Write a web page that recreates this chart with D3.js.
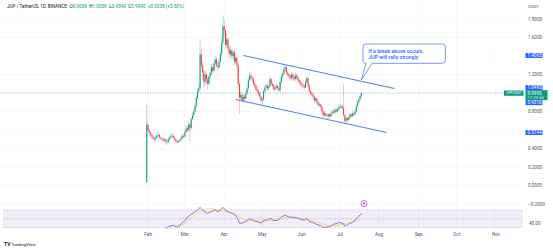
<!DOCTYPE html>
<html>
<head>
<meta charset="utf-8">
<script src="https://cdn.jsdelivr.net/npm/d3@7"></script>
<style>
  html, body { margin: 0; padding: 0; background: #fff; }
  svg { display: block; font-family: Roboto, "Liberation Sans", sans-serif; }
</style>
</head>
<body>
<div id="chart"></div>
<script>
// JUP / USDT daily candles, one per day from 31 Jan 2024
const startDate = new Date(2024, 0, 31);
const firstOpen = 0.04;
const closes = [
  0.66, 0.60, 0.57, 0.55, 0.53, 0.51, 0.50, 0.52, 0.54, 0.55,
  0.52, 0.51, 0.50, 0.49, 0.50, 0.48, 0.47, 0.50, 0.52, 0.53,
  0.54, 0.52, 0.50, 0.48, 0.47, 0.48, 0.49, 0.51, 0.54, 0.53,
  0.58, 0.62, 0.60, 0.66, 0.62, 0.72, 0.76, 0.80, 0.86, 0.95,
  1.02, 1.05, 1.42, 1.30, 1.22, 1.12, 1.20, 1.15, 1.10, 1.18,
  1.22, 1.28, 1.24, 1.32, 1.36, 1.30, 1.28, 1.34, 1.42, 1.55,
  1.72, 1.68, 1.52, 1.58, 1.48, 1.42, 1.46, 1.40, 1.44, 1.34,
  1.38, 1.30, 1.10, 0.95, 0.98, 0.92, 0.96, 0.94, 1.00, 1.05,
  1.14, 1.19, 1.17, 1.15, 1.10, 1.08, 1.04, 1.02, 1.00, 0.96,
  0.92, 0.93, 1.02, 1.06, 1.08, 1.05, 1.07, 1.15, 1.10, 1.08,
  1.04, 1.06, 1.08, 1.05, 1.03, 1.12, 1.18, 1.21, 1.26, 1.28,
  1.22, 1.20, 1.18, 1.16, 1.20, 1.17, 1.15, 1.19, 1.17, 1.14,
  1.12, 1.10, 1.09, 1.08, 1.06, 1.12, 1.16, 1.08, 1.02, 1.00,
  0.98, 0.96, 0.92, 0.94, 0.90, 0.87, 0.88, 0.85, 0.80, 0.76,
  0.78, 0.76, 0.75, 0.77, 0.75, 0.78, 0.80, 0.79, 0.82, 0.80,
  0.83, 0.84, 0.85, 0.86, 0.84, 0.76, 0.70, 0.73, 0.71, 0.74,
  0.77, 0.75, 0.78, 0.77, 0.80, 0.86, 0.90, 0.93, 0.9658, 0.9995
];
const highs = [
  0.87, 0.68, 0.62, 0.59, 0.57, 0.55, 0.53, 0.55, 0.57, 0.58,
  0.56, 0.54, 0.53, 0.52, 0.52, 0.51, 0.50, 0.52, 0.54, 0.56,
  0.57, 0.55, 0.53, 0.51, 0.50, 0.50, 0.51, 0.53, 0.56, 0.56,
  0.60, 0.65, 0.64, 0.69, 0.68, 0.74, 0.79, 0.83, 0.89, 0.98,
  1.06, 1.10, 1.58, 1.48, 1.34, 1.25, 1.24, 1.23, 1.18, 1.21,
  1.26, 1.32, 1.31, 1.36, 1.40, 1.39, 1.33, 1.37, 1.46, 1.60,
  1.84, 1.80, 1.70, 1.64, 1.60, 1.52, 1.50, 1.48, 1.47, 1.46,
  1.42, 1.40, 1.32, 1.13, 1.03, 1.01, 0.99, 0.99, 1.03, 1.08,
  1.17, 1.23, 1.22, 1.19, 1.17, 1.12, 1.10, 1.07, 1.04, 1.02,
  0.98, 0.96, 1.04, 1.09, 1.10, 1.10, 1.09, 1.18, 1.17, 1.12,
  1.10, 1.08, 1.10, 1.09, 1.07, 1.14, 1.21, 1.24, 1.29, 1.32,
  1.30, 1.25, 1.22, 1.20, 1.23, 1.22, 1.19, 1.22, 1.21, 1.19,
  1.16, 1.14, 1.12, 1.11, 1.10, 1.14, 1.19, 1.17, 1.10, 1.04,
  1.02, 1.00, 0.98, 0.96, 0.95, 0.92, 0.90, 0.89, 0.86, 0.82,
  0.81, 0.80, 0.78, 0.79, 0.78, 0.80, 0.82, 0.82, 0.84, 0.83,
  0.85, 0.87, 0.88, 0.89, 0.88, 1.10, 0.78, 0.75, 0.74, 0.76,
  0.79, 0.78, 0.80, 0.80, 0.82, 0.88, 0.92, 0.95, 0.98, 1.0059
];
const lows = [
  0.03, 0.57, 0.54, 0.53, 0.51, 0.48, 0.47, 0.49, 0.51, 0.52,
  0.50, 0.49, 0.48, 0.47, 0.47, 0.45, 0.44, 0.46, 0.49, 0.51,
  0.52, 0.50, 0.48, 0.46, 0.45, 0.46, 0.47, 0.48, 0.50, 0.51,
  0.52, 0.57, 0.57, 0.59, 0.48, 0.61, 0.70, 0.74, 0.78, 0.84,
  0.93, 0.99, 1.04, 1.26, 1.15, 1.05, 1.08, 1.10, 1.04, 1.08,
  1.15, 1.20, 1.20, 1.22, 1.29, 1.27, 1.24, 1.26, 1.32, 1.40,
  1.52, 1.60, 1.48, 1.49, 1.44, 1.38, 1.39, 1.36, 1.37, 1.30,
  1.31, 1.25, 1.05, 0.77, 0.92, 0.89, 0.90, 0.91, 0.93, 0.98,
  1.03, 1.12, 1.14, 1.12, 1.08, 1.05, 1.02, 0.99, 0.97, 0.94,
  0.89, 0.87, 0.92, 1.00, 1.04, 1.03, 1.03, 1.06, 1.08, 1.05,
  1.02, 1.02, 1.04, 1.03, 1.01, 1.02, 1.10, 1.16, 1.19, 1.23,
  1.19, 1.17, 1.15, 1.13, 1.14, 1.14, 1.12, 1.13, 1.14, 1.11,
  1.09, 1.07, 1.06, 1.05, 1.03, 1.05, 1.10, 1.05, 1.00, 0.97,
  0.95, 0.93, 0.90, 0.90, 0.88, 0.85, 0.85, 0.82, 0.77, 0.73,
  0.74, 0.74, 0.72, 0.73, 0.72, 0.73, 0.76, 0.77, 0.77, 0.78,
  0.79, 0.81, 0.82, 0.83, 0.82, 0.74, 0.66, 0.68, 0.68, 0.69,
  0.72, 0.73, 0.74, 0.75, 0.76, 0.79, 0.84, 0.88, 0.92, 0.9540
];

// RSI (14) and its moving average, read at day offsets from startDate
const rsiDays = [15, 18, 21, 24, 27, 30, 33, 35, 37, 39, 41, 42, 44, 46, 48, 50, 52, 54, 56, 58,
  60, 62, 64, 66, 68, 70, 72, 73, 75, 78, 81, 84, 87, 90, 93, 96, 97, 100, 103, 106,
  109, 112, 115, 118, 121, 124, 126, 128, 131, 134, 137, 139, 141, 144, 147, 150, 152, 155, 156, 159,
  162, 164, 166, 168, 169];
const rsiValues = [28, 33, 35, 31, 38, 46, 56, 60, 64, 68, 72, 76, 70, 66, 62, 66, 68, 70, 66, 70,
  76, 70, 66, 64, 62, 58, 48, 40, 40, 44, 50, 46, 43, 40, 47, 48, 52, 46, 46, 54,
  58, 54, 53, 52, 49, 47, 51, 44, 41, 37, 34, 30, 31, 32, 37, 40, 42, 38, 33, 38,
  42, 46, 54, 58, 62];
const maDays = [24, 28, 32, 36, 40, 44, 48, 52, 56, 60, 64, 68, 72, 76, 80, 85, 90, 95, 100, 105,
  110, 115, 120, 125, 130, 135, 140, 145, 150, 155, 160, 165, 169];
const maValues = [31, 36, 44, 54, 64, 71, 74, 73, 70, 68, 66, 62, 56, 50, 46, 45, 45, 45, 46, 49,
  53, 55, 53, 50, 46, 41, 36, 34, 35, 38, 41, 45, 49];

// axis ticks
const priceTicks = [-0.2, 0, 0.2, 0.4, 0.6, 0.8, 1.0, 1.2, 1.4, 1.6, 1.8];
const rsiBand = [70, 50, 30];
const rsiTicks = [40];

// parallel channel drawn on the chart: [date, price] end points
const upperChannel = [[new Date(2024, 3, 16), 1.4065], [new Date(2024, 7, 13), 1.0493]];
const lowerChannel = [[new Date(2024, 3, 10), 0.9316], [new Date(2024, 7, 7), 0.5744]];
const channelLevels = [1.4065, 1.0493, 0.9316, 0.5744];

const lastPrice = 0.9995;
const note = ["If a break above occurs,", "JUP will rally strongly"];

const width = 553, height = 252;
const plotRight = 523;
const up = "#089981", down = "#f23645";

const svg = d3.select("#chart").append("svg")
  .attr("width", width)
  .attr("height", height);

const x = d3.scaleTime()
  .domain([new Date(2024, 1, 1), new Date(2024, 10, 1)])
  .range([148, 496]);
const y = d3.scaleLinear()
  .domain([0, 1.8])
  .range([185.7, 19]);
const yr = d3.scaleLinear()
  .domain([30, 70])
  .range([227.5, 210]);

const candles = closes.map((c, i) => ({
  date: d3.timeDay.offset(startDate, i),
  open: i === 0 ? firstOpen : closes[i - 1],
  high: highs[i],
  low: lows[i],
  close: c
}));

// grid
const grid = svg.append("g").attr("stroke", "#f0f3fa").attr("stroke-width", 0.6);
grid.selectAll("line.h")
  .data(priceTicks)
  .join("line")
  .attr("x1", 0).attr("x2", plotRight)
  .attr("y1", d => y(d)).attr("y2", d => y(d));
grid.selectAll("line.v")
  .data(x.ticks(d3.timeMonth.every(1)))
  .join("line")
  .attr("x1", d => x(d)).attr("x2", d => x(d))
  .attr("y1", 0).attr("y2", 230);

// rsi pane
svg.append("rect")
  .attr("x", 3).attr("width", plotRight - 3)
  .attr("y", yr(70)).attr("height", yr(30) - yr(70))
  .attr("fill", "#7e57c2").attr("fill-opacity", 0.1);
svg.append("g").selectAll("line")
  .data(rsiBand)
  .join("line")
  .attr("x1", 3).attr("x2", plotRight)
  .attr("y1", d => yr(d)).attr("y2", d => yr(d))
  .attr("stroke", "#9598a1").attr("stroke-width", 0.5)
  .attr("stroke-dasharray", "1,1");

const maLine = d3.line()
  .x((d, i) => x(d3.timeDay.offset(startDate, d)))
  .y((d, i) => yr(maValues[i]))
  .curve(d3.curveBasis);
svg.append("path")
  .attr("d", maLine(maDays))
  .attr("fill", "none").attr("stroke", "#f5d76e").attr("stroke-width", 0.8);

const rsiLine = d3.line()
  .x((d, i) => x(d3.timeDay.offset(startDate, d)))
  .y((d, i) => yr(rsiValues[i]));
svg.append("path")
  .attr("d", rsiLine(rsiDays))
  .attr("fill", "none").attr("stroke", "#7e57c2").attr("stroke-width", 0.8);

// alert marker above rsi
const mx = x(d3.timeDay.offset(startDate, 171));
svg.append("circle").attr("cx", mx).attr("cy", 203.5).attr("r", 3)
  .attr("fill", "#fff").attr("stroke", "#9c27b0").attr("stroke-width", 0.7);
svg.append("circle").attr("cx", mx).attr("cy", 203.5).attr("r", 1)
  .attr("fill", "#9c27b0");

// last price dotted line
svg.append("line")
  .attr("x1", 0).attr("x2", plotRight)
  .attr("y1", y(lastPrice)).attr("y2", y(lastPrice))
  .attr("stroke", up).attr("stroke-width", 0.5)
  .attr("stroke-dasharray", "1,1.5");

// candles
const step = x(d3.timeDay.offset(startDate, 1)) - x(startDate);
const cg = svg.append("g");
cg.selectAll("line")
  .data(candles)
  .join("line")
  .attr("x1", d => x(d.date)).attr("x2", d => x(d.date))
  .attr("y1", d => y(d.high)).attr("y2", d => y(d.low))
  .attr("stroke", d => d.close >= d.open ? up : down)
  .attr("stroke-opacity", 0.45)
  .attr("stroke-width", 0.7);
cg.selectAll("rect")
  .data(candles)
  .join("rect")
  .attr("x", d => x(d.date) - step * 0.4)
  .attr("width", step * 0.8)
  .attr("y", d => y(Math.max(d.open, d.close)))
  .attr("height", d => Math.max(0.6, Math.abs(y(d.open) - y(d.close))))
  .attr("fill", d => d.close >= d.open ? up : down);

// channel
const chLine = d3.line().x(d => x(d[0])).y(d => y(d[1]));
svg.append("g").selectAll("path")
  .data([upperChannel, lowerChannel])
  .join("path")
  .attr("d", chLine)
  .attr("stroke", "#5b7cf7").attr("stroke-width", 1.1).attr("fill", "none");

// callout
const tip = [x(new Date(2024, 6, 18)), y(1.141)];
const bx = tip[0] + 1.6, by = tip[1] - 36, bw = 82.4, bh = 19.3;
svg.append("path")
  .attr("d", `M${bx + 3},${by} H${bx + bw - 3} Q${bx + bw},${by} ${bx + bw},${by + 3}
    V${by + bh - 3} Q${bx + bw},${by + bh} ${bx + bw - 3},${by + bh}
    H${bx + 9} L${tip[0]},${tip[1]} L${bx + 3},${by + bh}
    Q${bx},${by + bh} ${bx},${by + bh - 3} V${by + 3} Q${bx},${by} ${bx + 3},${by} Z`)
  .attr("fill", "#fff").attr("stroke", "#5b7cf7").attr("stroke-width", 0.8);
svg.append("g").selectAll("text")
  .data(note)
  .join("text")
  .attr("x", bx + 5.5)
  .attr("y", (d, i) => by + 8.5 + i * 6)
  .attr("font-size", 5.2)
  .attr("font-weight", 500)
  .attr("fill", "#2962ff")
  .text(d => d);

// price scale labels (the ones under a tag are hidden, as on the chart)
const lastY = y(lastPrice);
const hidden = v => channelLevels.concat([lastPrice]).some(l => Math.abs(y(l) - y(v)) < 4.5);
svg.append("g").selectAll("text")
  .data(priceTicks.filter(v => !hidden(v)))
  .join("text")
  .attr("x", 528).attr("y", d => y(d)).attr("dy", "0.35em")
  .attr("font-size", 4.6).attr("fill", "#50535e")
  .text(d => d3.format(".4f")(d));
svg.append("g").selectAll("text")
  .data(rsiTicks)
  .join("text")
  .attr("x", 529).attr("y", d => yr(d)).attr("dy", "0.35em")
  .attr("font-size", 4.6).attr("fill", "#50535e")
  .text(d => d3.format(".2f")(d));
svg.append("text").attr("x", 528).attr("y", 7.5)
  .attr("font-size", 4.4).attr("fill", "#50535e").text("USDT");

// last price tag
svg.append("rect").attr("x", 504).attr("y", lastY - 2.6).attr("width", 19.5).attr("height", 5.2)
  .attr("fill", up);
svg.append("text").attr("x", 513.7).attr("y", lastY).attr("dy", "0.35em")
  .attr("text-anchor", "middle").attr("font-size", 3.8).attr("fill", "#fff").text("JUPUSDT");
svg.append("rect").attr("x", 525.5).attr("y", lastY - 3).attr("width", 22).attr("height", 10)
  .attr("fill", up);
svg.append("text").attr("x", 527.5).attr("y", lastY).attr("dy", "0.35em")
  .attr("font-size", 4.6).attr("fill", "#fff").text(d3.format(".4f")(lastPrice));
svg.append("text").attr("x", 527.5).attr("y", lastY + 4.7).attr("dy", "0.35em")
  .attr("font-size", 4.2).attr("fill", "#fff").attr("fill-opacity", 0.85).text("17:29:54");

// channel end point tags, pushed clear of the last price tag
const tagTop = lastY - 3, tagBottom = lastY + 7;
channelLevels.forEach(v => {
  let cy = y(v);
  if (cy + 2.5 > tagTop && cy < lastY) cy = tagTop - 2.5;
  else if (cy - 2.5 < tagBottom && cy >= lastY) cy = tagBottom + 2.5;
  svg.append("rect").attr("x", 525.5).attr("y", cy - 2.5).attr("width", 17).attr("height", 5)
    .attr("fill", "#2962ff");
  svg.append("text").attr("x", 527.5).attr("y", cy).attr("dy", "0.35em")
    .attr("font-size", 4.6).attr("fill", "#fff").text(d3.format(".4f")(v));
});

// time axis
svg.append("g").selectAll("text")
  .data(x.ticks(d3.timeMonth.every(1)))
  .join("text")
  .attr("x", d => x(d)).attr("y", 234).attr("dy", "0.35em")
  .attr("text-anchor", "middle")
  .attr("font-size", 4.6).attr("fill", "#50535e")
  .text(d3.timeFormat("%b"));

// legend line
const head = svg.append("text").attr("x", 7).attr("y", 6).attr("dy", "0.35em")
  .attr("font-size", 4.6).attr("fill", "#131722");
head.append("tspan").text("JUP / TetherUS, 1D, BINANCE");
[["O", "0.9658"], ["H", "1.0059"], ["L", "0.9540"], ["C", "0.9995"]].forEach(p => {
  head.append("tspan").attr("dx", 2.5).text(p[0]);
  head.append("tspan").attr("fill", up).text(p[1]);
});
head.append("tspan").attr("dx", 2.5).attr("fill", up).text("+0.0338 (+3.50%)");

// watermark
svg.append("text").attr("x", 4).attr("y", 244).attr("dy", "0.35em")
  .attr("font-size", 5).attr("font-weight", 700).attr("fill", "#131722").text("TV");
svg.append("text").attr("x", 11.5).attr("y", 244).attr("dy", "0.35em")
  .attr("font-size", 4.4).attr("fill", "#131722").text("TradingView");
</script>
</body>
</html>
